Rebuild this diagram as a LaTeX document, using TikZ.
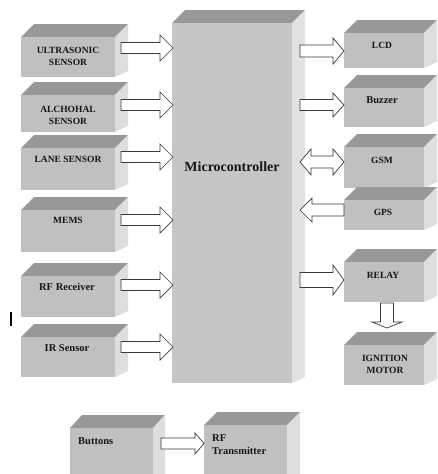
\documentclass[tikz,border=0pt]{standalone}
\usepackage{fontspec}
\setmainfont{Liberation Serif}
\usetikzlibrary{fit}
\definecolor{frontc}{HTML}{C0C0C0}
\definecolor{topc}{HTML}{989898}
\definecolor{sidec}{HTML}{DEDEDE}
\definecolor{mfront}{HTML}{C6C6C6}
\definecolor{mside}{HTML}{E2E2E2}
\definecolor{arrowc}{HTML}{3A3A3A}
\definecolor{textc}{HTML}{151515}
\tikzset{
  capslbl/.style={font=\bfseries\fontsize{9.5}{12}\selectfont, align=center, inner sep=0pt, text=textc},
  mixlbl/.style={font=\bfseries\fontsize{10.5}{13}\selectfont, align=center, inner sep=0pt, text=textc},
  barrow/.style={fill=white, draw=arrowc, line width=0.7pt, line join=miter},
}
% name, x1, y1, x2, y2, depth
\newcommand\cubebox[6]{%
  \fill[topc] (#2,#3) -- (#2+#6,#3-13) -- (#4+#6,#3-13) -- (#4,#3) -- cycle;
  \fill[sidec] (#4,#3) -- (#4+#6,#3-13) -- (#4+#6,#5-6) -- (#4,#5) -- cycle;
  \node[fit={(#2,#3) (#4,#5)}, inner sep=0pt, fill=frontc] (#1) {};
}
% right arrow: x1 (tail), x2 (tip), yc, shaft half, head half, head length
\newcommand\rarrow[6]{%
  \draw[barrow] (#1,#3-#4) -- (#2-#6,#3-#4) -- (#2-#6,#3-#5) -- (#2,#3) -- (#2-#6,#3+#5) -- (#2-#6,#3+#4) -- (#1,#3+#4) -- cycle;
}
\newcommand\larrow[6]{%
  \draw[barrow] (#1,#3-#4) -- (#2+#6,#3-#4) -- (#2+#6,#3-#5) -- (#2,#3) -- (#2+#6,#3+#5) -- (#2+#6,#3+#4) -- (#1,#3+#4) -- cycle;
}
\begin{document}
\begin{tikzpicture}[x=1pt,y=-1pt]
\useasboundingbox (0,0) rectangle (437,474);
\fill[white] (0,0) rectangle (437,474);
\clip (0,0) rectangle (437,474);

% microcontroller
\fill[topc] (172,23) -- (185,10) -- (305,10) -- (292,23) -- cycle;
\fill[mside] (292,23) -- (305,10) -- (305,377) -- (292,383) -- cycle;
\node[fit={(172,23) (292,383)}, inner sep=0pt, fill=mfront] (mc) {};
\node[font=\bfseries\fontsize{14}{16}\selectfont, inner sep=0pt, text=textc] (mct) at (232,167) {Microcontroller};

% left boxes
\cubebox{us}{21}{37}{115}{77}{13}
\node[capslbl] (ust) at (68,56.5) {ULTRASONIC\\SENSOR};
\cubebox{al}{21}{95}{115}{132}{13}
\node[capslbl] (alt) at (68,115) {ALCHOHAL\\SENSOR};
\cubebox{ln}{21}{148}{115}{190}{13}
\node[capslbl] (lnt) at (68,159) {LANE SENSOR};
\cubebox{me}{21}{210}{115}{252}{13}
\node[capslbl] (met) at (68,220) {MEMS};
\cubebox{rf}{21}{276}{115}{317}{13}
\node[mixlbl] (rft) at (67,287) {RF Receiver};
\cubebox{ir}{21}{337}{115}{377}{13}
\node[mixlbl] (irt) at (67,348) {IR Sensor};

% right boxes
\cubebox{lcd}{344}{33}{424}{68}{13}
\node[capslbl] (lcdt) at (382,45) {LCD};
\cubebox{bz}{344}{88}{424}{127}{13}
\node[mixlbl] (bzt) at (382,100) {Buzzer};
\cubebox{gsm}{344}{147}{424}{188}{13}
\node[capslbl] (gsmt) at (382,160) {GSM};
\cubebox{gps}{344}{200}{424}{230}{13}
\node[capslbl] (gpst) at (383,212) {GPS};
\cubebox{rel}{344}{262}{424}{302}{13}
\node[capslbl] (relt) at (383,275) {RELAY};
\cubebox{ign}{344}{345}{424}{385}{13}
\node[capslbl] (ignt) at (385,364.5) {IGNITION\\MOTOR};

% bottom boxes
\cubebox{btn}{70}{428}{153}{490}{12}
\node[mixlbl, anchor=west] (btnt) at (78,441) {Buttons};
\cubebox{rtx}{204}{425}{287}{490}{13}
\node[mixlbl, anchor=west, align=left] (rtxt) at (212,444.5) {RF\\Transmitter};

% left arrows into microcontroller
\rarrow{121}{173}{48}{5.5}{13}{13}
\rarrow{121}{173}{105}{5.5}{13}{13}
\rarrow{121}{173}{157}{5.5}{13}{13}
\rarrow{121}{173}{220}{5.5}{13}{13}
\rarrow{121}{173}{285}{5.5}{13}{13}
\rarrow{121}{173}{347}{5.5}{13}{13}

% right arrows
\rarrow{300}{344}{51}{6}{13}{11}
\rarrow{300}{344}{105}{5.5}{12}{11}
% double arrow GSM
\draw[barrow] (300,162) -- (311,149) -- (311,156) -- (333,156) -- (333,149) -- (344,162) -- (333,175) -- (333,168) -- (311,168) -- (311,175) -- cycle;
\larrow{344}{300}{210}{6}{12}{12}
\rarrow{300}{344}{280}{7.5}{15}{11}
% down arrow relay -> ignition
\draw[barrow] (380.5,303) -- (393.5,303) -- (393.5,322) -- (402,322) -- (387,328) -- (372,322) -- (380.5,322) -- cycle;
% bottom arrow
\rarrow{161}{204}{443.5}{5.5}{10.5}{9}

% cursor mark
\fill[black] (10,312) rectangle (12,326);
\end{tikzpicture}
\end{document}
